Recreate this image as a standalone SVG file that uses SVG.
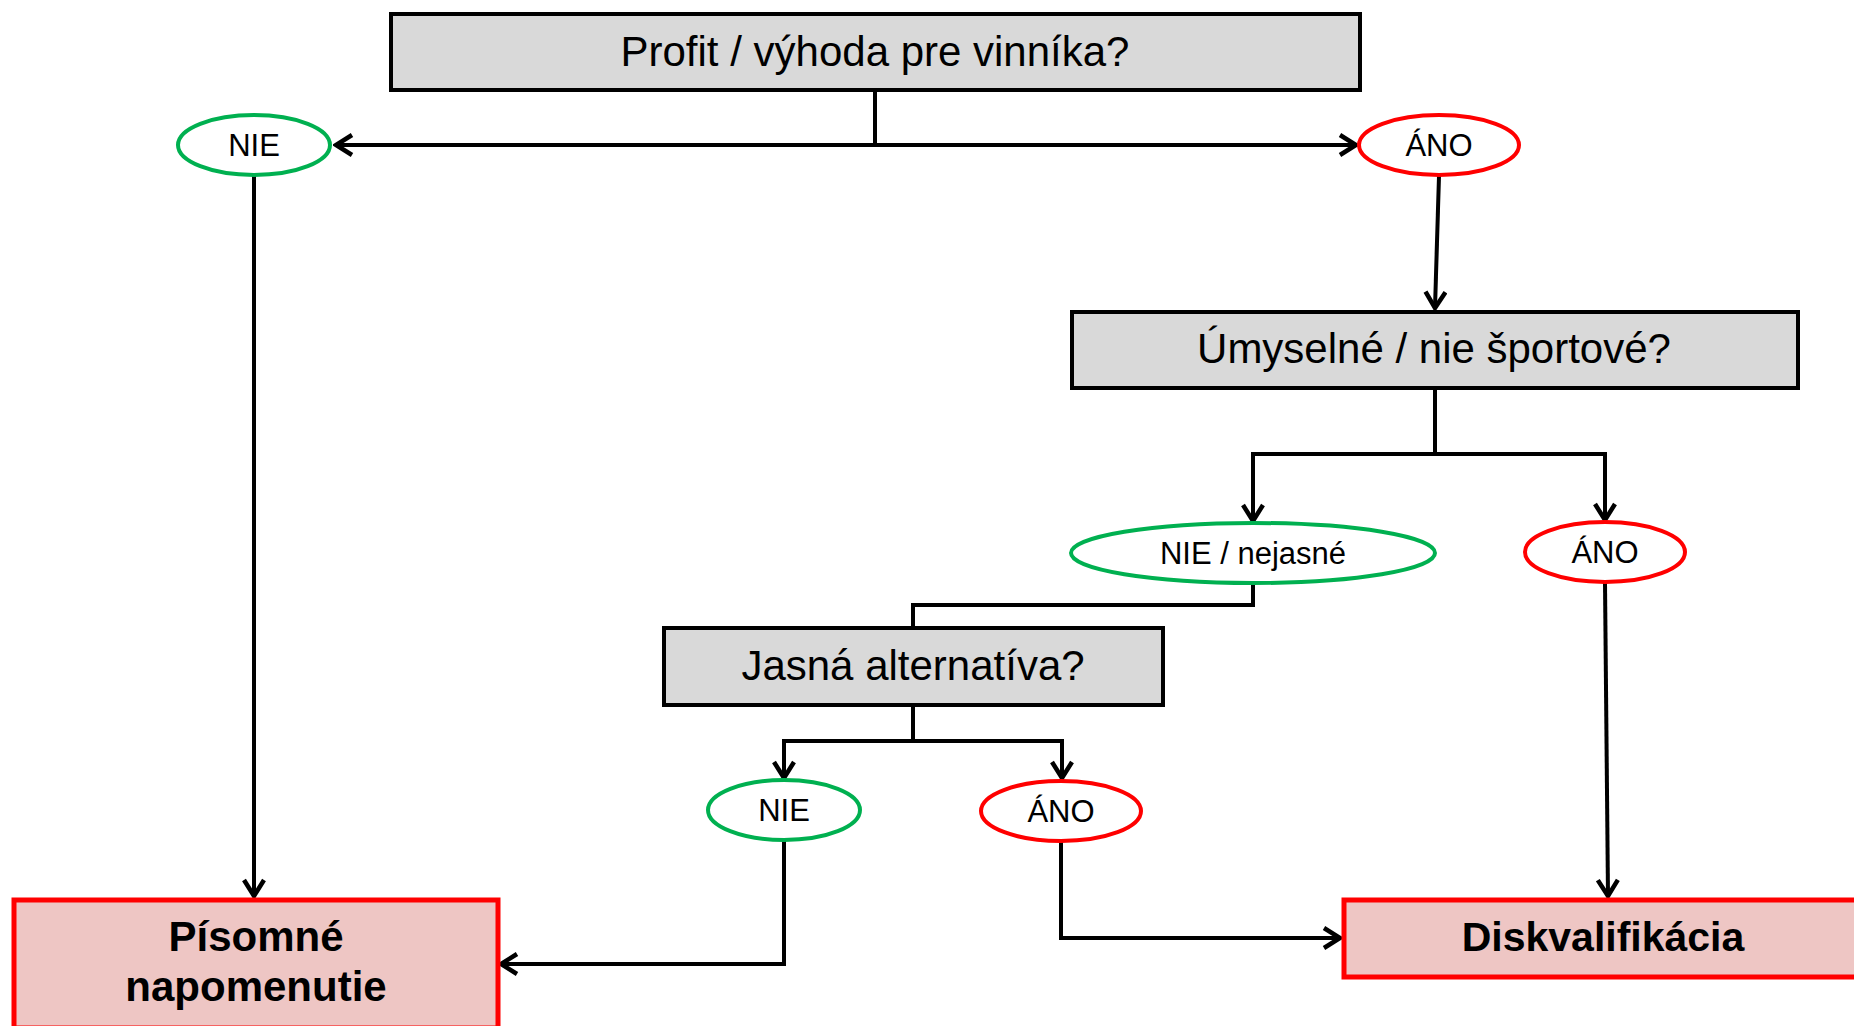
<svg xmlns="http://www.w3.org/2000/svg" width="1854" height="1026" viewBox="0 0 1854 1026">
<style>
.q{fill:#D9D9D9;stroke:#000;stroke-width:4}
.r{fill:#EEC6C4;stroke:#FF0000;stroke-width:5}
.g{fill:#fff;stroke:#00B050;stroke-width:4}
.e{fill:#fff;stroke:#FF0000;stroke-width:4}
.t{font-family:"Liberation Sans",Arial,sans-serif;font-size:42px;text-anchor:middle;fill:#000}
.s{font-family:"Liberation Sans",Arial,sans-serif;font-size:31px;text-anchor:middle;fill:#000}
.b{font-family:"Liberation Sans",Arial,sans-serif;font-size:42px;font-weight:bold;text-anchor:middle;fill:#000}
.c{fill:none;stroke:#000;stroke-width:4}
</style>
<defs>
<marker id="a" viewBox="0 0 24 24" refX="21" refY="12" markerWidth="24" markerHeight="24" markerUnits="userSpaceOnUse" orient="auto">
<path d="M5,2 L21,12 L5,22" fill="none" stroke="#000" stroke-width="4.5"/>
</marker>
</defs>
<g id="connectors">
<path class="c" d="M875,90 V145"/>
<path class="c" d="M875,145 H336" marker-end="url(#a)"/>
<path class="c" d="M875,145 H1356" marker-end="url(#a)"/>
<path class="c" d="M254,176 V896" marker-end="url(#a)"/>
<path class="c" d="M1439,176 L1435,308" marker-end="url(#a)"/>
<path class="c" d="M1435,388 V454"/>
<path class="c" d="M1435,454 H1253 V521" marker-end="url(#a)"/>
<path class="c" d="M1435,454 H1605 V520" marker-end="url(#a)"/>
<path class="c" d="M1253,584 V605 H913 V627"/>
<path class="c" d="M913,705 V741"/>
<path class="c" d="M913,741 H784 V778" marker-end="url(#a)"/>
<path class="c" d="M913,741 H1062 V778" marker-end="url(#a)"/>
<path class="c" d="M784,841 V964 H501" marker-end="url(#a)"/>
<path class="c" d="M1061,842 V938 H1340" marker-end="url(#a)"/>
<path class="c" d="M1605,583 L1608,896" marker-end="url(#a)"/>
</g>
<g id="n1"><rect class="q" x="391" y="14" width="969" height="76"/><text class="t" x="875" y="66">Profit / výhoda pre vinníka?</text></g>
<g id="n2"><ellipse class="g" cx="254" cy="145" rx="76" ry="30"/><text class="s" x="254" y="156">NIE</text></g>
<g id="n3"><ellipse class="e" cx="1439" cy="145" rx="80" ry="30"/><text class="s" x="1439" y="156">ÁNO</text></g>
<g id="n4"><rect class="q" x="1072" y="312" width="726" height="76"/><text class="t" x="1434" y="363">Úmyselné / nie športové?</text></g>
<g id="n5"><ellipse class="g" cx="1253" cy="553" rx="182" ry="30"/><text class="s" x="1253" y="564">NIE / nejasné</text></g>
<g id="n6"><ellipse class="e" cx="1605" cy="552" rx="80" ry="30"/><text class="s" x="1605" y="563">ÁNO</text></g>
<g id="n7"><rect class="q" x="664" y="628" width="499" height="77"/><text class="t" x="913" y="680">Jasná alternatíva?</text></g>
<g id="n8"><ellipse class="g" cx="784" cy="810" rx="76" ry="30"/><text class="s" x="784" y="821">NIE</text></g>
<g id="n9"><ellipse class="e" cx="1061" cy="811" rx="80" ry="30"/><text class="s" x="1061" y="822">ÁNO</text></g>
<g id="n10"><rect class="r" x="14" y="900" width="484" height="128"/><text class="b" x="256" y="951">Písomné</text><text class="b" x="256" y="1001">napomenutie</text></g>
<g id="n11"><rect class="r" x="1344" y="900" width="530" height="77"/><text class="b" x="1603" y="951" style="font-size:41px">Diskvalifikácia</text></g>
</svg>
